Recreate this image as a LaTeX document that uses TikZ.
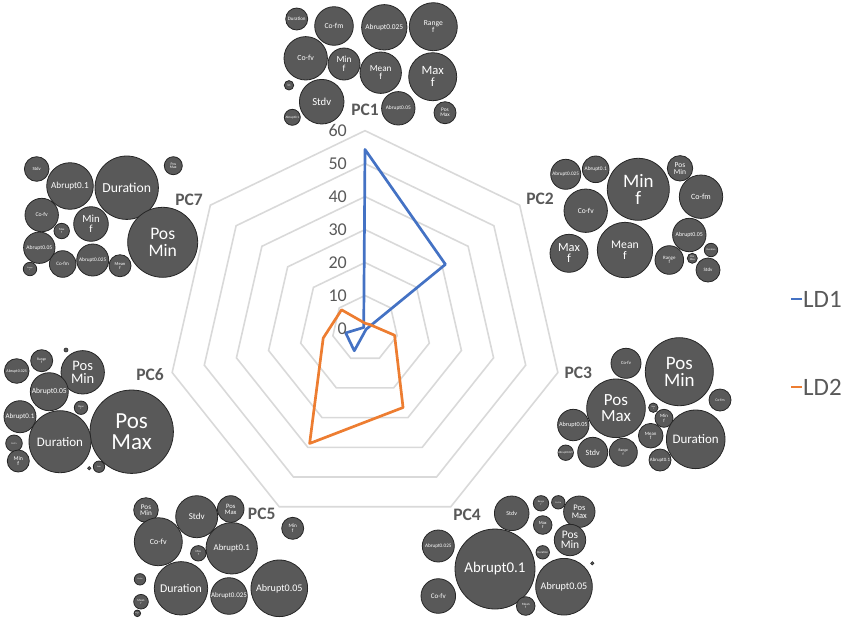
\documentclass[tikz,border=0pt]{standalone}
\usepackage{fontspec}
\setmainfont{Carlito}
\usepackage{tikz}
\usetikzlibrary{positioning, calc}
\definecolor{bubfill}{HTML}{595959}
\definecolor{bubline}{HTML}{262626}
\definecolor{gridgray}{HTML}{D9D9D9}
\definecolor{axtext}{HTML}{595959}
\definecolor{ldblue}{HTML}{4472C4}
\definecolor{ldorange}{HTML}{ED7D31}

\begin{document}
\begin{tikzpicture}[x=1pt,y=-1pt,
    bubble/.style={circle,draw=bubline,fill=bubfill,line width=0.8pt,inner sep=0pt,text=white,align=center},
    gridring/.style={draw=gridgray,line width=1.6pt},
    ticklabel/.style={text=axtext,font=\fontsize{18}{18}\selectfont,anchor=east,inner sep=0pt},
    pclabel/.style={text=axtext,font=\fontsize{17.5}{17.5}\selectfont\bfseries,inner sep=0pt},
    ldone/.style={draw=ldblue,line width=2.7pt,line join=round},
    ldtwo/.style={draw=ldorange,line width=2.7pt,line join=round},
    legtext/.style={text=axtext,font=\fontsize{25}{25}\selectfont,anchor=west,inner sep=0pt}]
    \useasboundingbox (0,0) rectangle (850,622);
    \begin{scope}[shift={(365,328.5)},x=3.297pt,y=-3.297pt]
        \foreach \v in {10,20,...,60}
            \draw[gridring] (-90:\v) \foreach \k in {1,...,6}{ -- ({-90+\k*360/7}:\v)} -- cycle;
        \draw[ldone] (-90:54.3) \foreach \v [count=\k] in {31.2,0.5,0.5,7.5,6,0.5}{ -- ({-90+\k*360/7}:\v)} -- cycle;
        \draw[ldtwo] (-90:1.6) \foreach \v [count=\k] in {1.9,9.2,26.6,38.7,13,9.1}{ -- ({-90+\k*360/7}:\v)} -- cycle;
    \end{scope}
    \foreach \v in {0,10,...,60}
        \node[ticklabel] (tick\v) at (347,{328.5-3.297*\v}) {\v};
    \foreach \n/\x/\y in {1/365/110,2/540/199.3,3/578.3/373.3,4/467/515,5/261.7/514,6/150/375,7/189/200}
        \node[pclabel] (pc\n) at (\x,\y) {PC\n};

    \foreach \x/\y/\r/\s/\t [count=\i, evaluate=\s as \ls using 0.92*\s] in {296.7/19/11/5/Duration, 334/26/19.3/7.6/Co-fm, 384.3/27.3/22.7/7.4/Abrupt0.025, 433.3/26.7/24/7.6/Range\\f, 305.7/58.3/21.7/7.8/Co-fv, 344/64/16/9.3/Min\\f, 380.7/72.7/20.7/9.2/Mean\\f, 432.7/76.7/24/12.6/Max\\f, 289/85.3/4.7/1.8/Pos\\Min, 321.7/101.7/22.3/10.7/Stdv, 292.3/117.3/8/3.3/Abrupt0.1, 398.3/108.3/16.7/5.4/Abrupt0.05, 445/112.7/11/5.4/Pos\\Max}
        \node[bubble,minimum size={2*\r*1pt},font=\fontsize{\s}{\ls}\selectfont] (pc1b\i) at (\x,\y) {\t};

    \foreach \x/\y/\r/\s/\t [count=\i, evaluate=\s as \ls using 0.92*\s] in {565.7/174.3/15/5.2/Abrupt0.025, 595.7/169.3/13.3/5.4/Abrupt0.1, 638.3/189.3/31/19/Min\\f, 680/168.3/12.7/7.5/Pos\\Min, 701/196.7/21.7/8/Co-fm, 585.7/210.7/21.7/7.5/Co-fv, 689.3/235/16.7/5.9/Abrupt0.05, 569/253.3/19/12.4/Max\\f, 625/250/27.7/11.7/Mean\\f, 669.3/260/14.3/4.9/Range\\f, 692.3/258.3/5/2.8/Pos\\Max, 711/250/6.7/2.5/Duration, 708/270/12/5/Stdv}
        \node[bubble,minimum size={2*\r*1pt},font=\fontsize{\s}{\ls}\selectfont] (pc2b\i) at (\x,\y) {\t};

    \foreach \x/\y/\r/\s/\t [count=\i, evaluate=\s as \ls using 0.92*\s] in {626/363.3/15/4.7/Co-fv, 679.3/371.7/34/19/Pos\\Min, 720/400/11/3.8/Co-fm, 616/408.3/29.3/17/Pos\\Max, 653.3/407.7/4.7/2/Max\\f, 664/418.3/9/4.8/Min\\f, 573.3/425/15.7/6.2/Abrupt0.05, 650.7/435.7/12.3/4.9/Mean\\f, 695.7/439.3/29.3/13/Duration, 565.7/452.7/7.7/2.9/Abrupt0.025, 592.7/452.3/15/8/Stdv, 623.3/452.3/14/3.7/Range\\f, 660/460/11/4.9/Abrupt0.1}
        \node[bubble,minimum size={2*\r*1pt},font=\fontsize{\s}{\ls}\selectfont] (pc3b\i) at (\x,\y) {\t};

    \foreach \x/\y/\r/\s/\t [count=\i, evaluate=\s as \ls using 0.92*\s] in {511.7/513.3/17.3/6/Stdv, 541/503.3/7.7/2.5/Range\\f, 558.3/502.3/6.7/2.3/Co-fm, 579.3/511.7/15.7/8.5/Pos\\Max, 542.7/525/9.3/4.5/Max\\f, 570/540/15.7/11.5/Pos\\Min, 438.3/546/16/5.2/Abrupt0.025, 542.7/552.3/6.7/3/Duration, 495/569/40/14.9/Abrupt0.1, 564/586.7/28.3/10.1/Abrupt0.05, 438.3/596/17.3/7/Co-fv, 525.7/606/9.3/3.3/Mean\\f}
        \node[bubble,minimum size={2*\r*1pt},font=\fontsize{\s}{\ls}\selectfont] (pc4b\i) at (\x,\y) {\t};

    \foreach \x/\y/\r/\s/\t [count=\i, evaluate=\s as \ls using 0.92*\s] in {146/510/12.3/7.2/Pos\\Min, 196.7/516.7/21/9/Stdv, 230.7/509/13.3/6.6/Pos\\Max, 292.7/528.3/11/5.2/Min\\f, 158.3/541.7/24/7.9/Co-fv, 198.3/553.3/7.7/3/Max\\f, 231.7/548.3/25.7/8.8/Abrupt0.1, 140/579.3/5.7/2/Co-fm, 181/588.3/26.7/11.8/Duration, 229/596/18.3/7/Abrupt0.025, 279.3/588.3/28.3/10.1/Abrupt0.05, 141/601.7/7.3/3/Mean\\f, 137.3/613.3/3.3/1.5/Range\\f}
        \node[bubble,minimum size={2*\r*1pt},font=\fontsize{\s}{\ls}\selectfont] (pc5b\i) at (\x,\y) {\t};

    \foreach \x/\y/\r/\s/\t [count=\i, evaluate=\s as \ls using 0.92*\s] in {41.7/360.7/11/3.6/Range\\f, 16.7/371/12.3/4/Abrupt0.025, 82.7/372.3/21.7/14.5/Pos\\Min, 49.3/391.7/19/7.6/Abrupt0.05, 20/416.7/16/7/Abrupt0.1, 81/407.7/6.7/2.5/Mean\\f, 131.7/431.7/41.7/23/Pos\\Max, 14/443.3/8.3/2.5/Co-fv, 60/441.7/31/13/Duration, 18.3/461/11/5.8/Min\\f, 99/466.7/5.7/2/Stdv}
        \node[bubble,minimum size={2*\r*1pt},font=\fontsize{\s}{\ls}\selectfont] (pc6b\i) at (\x,\y) {\t};

    \foreach \x/\y/\r/\s/\t [count=\i, evaluate=\s as \ls using 0.92*\s] in {36.7/169/12.3/4.7/Stdv, 70/186/23.3/9.2/Abrupt0.1, 126.7/187.7/31.7/13.7/Duration, 173.3/165.7/9/3.8/Pos\\Max, 41.7/215/16.7/5.8/Co-fv, 61.7/231/7.7/3/Max\\f, 91/224/17.3/10.8/Min\\f, 162.7/242.3/35/17.6/Pos\\Min, 39.3/247.7/15.7/5.6/Abrupt0.05, 30/269/6.7/2/Range\\f, 62.7/264/13.3/5.1/Co-fm, 92.7/260/16/5.3/Abrupt0.025, 120/265.7/11/4.5/Mean\\f}
        \node[bubble,minimum size={2*\r*1pt},font=\fontsize{\s}{\ls}\selectfont] (pc7b\i) at (\x,\y) {\t};

    \foreach \x/\y/\r in {592.3/563.3/1.7, 66/350/2, 89.3/468.3/1.7}
        \filldraw[fill=bubfill,draw=bubline,line width=0.6pt] (\x,\y) circle[radius=\r];

    \node[legtext] (ld1) at (803,299.3) {LD1};
    \node[legtext] (ld2) at (803,387.3) {LD2};
    \draw[draw=ldblue,line width=2pt] (ld1.west) ++(-1,0) -- ++(-11,0);
    \draw[draw=ldorange,line width=2pt] (ld2.west) ++(-1,0) -- ++(-11,0);
\end{tikzpicture}
\end{document}
